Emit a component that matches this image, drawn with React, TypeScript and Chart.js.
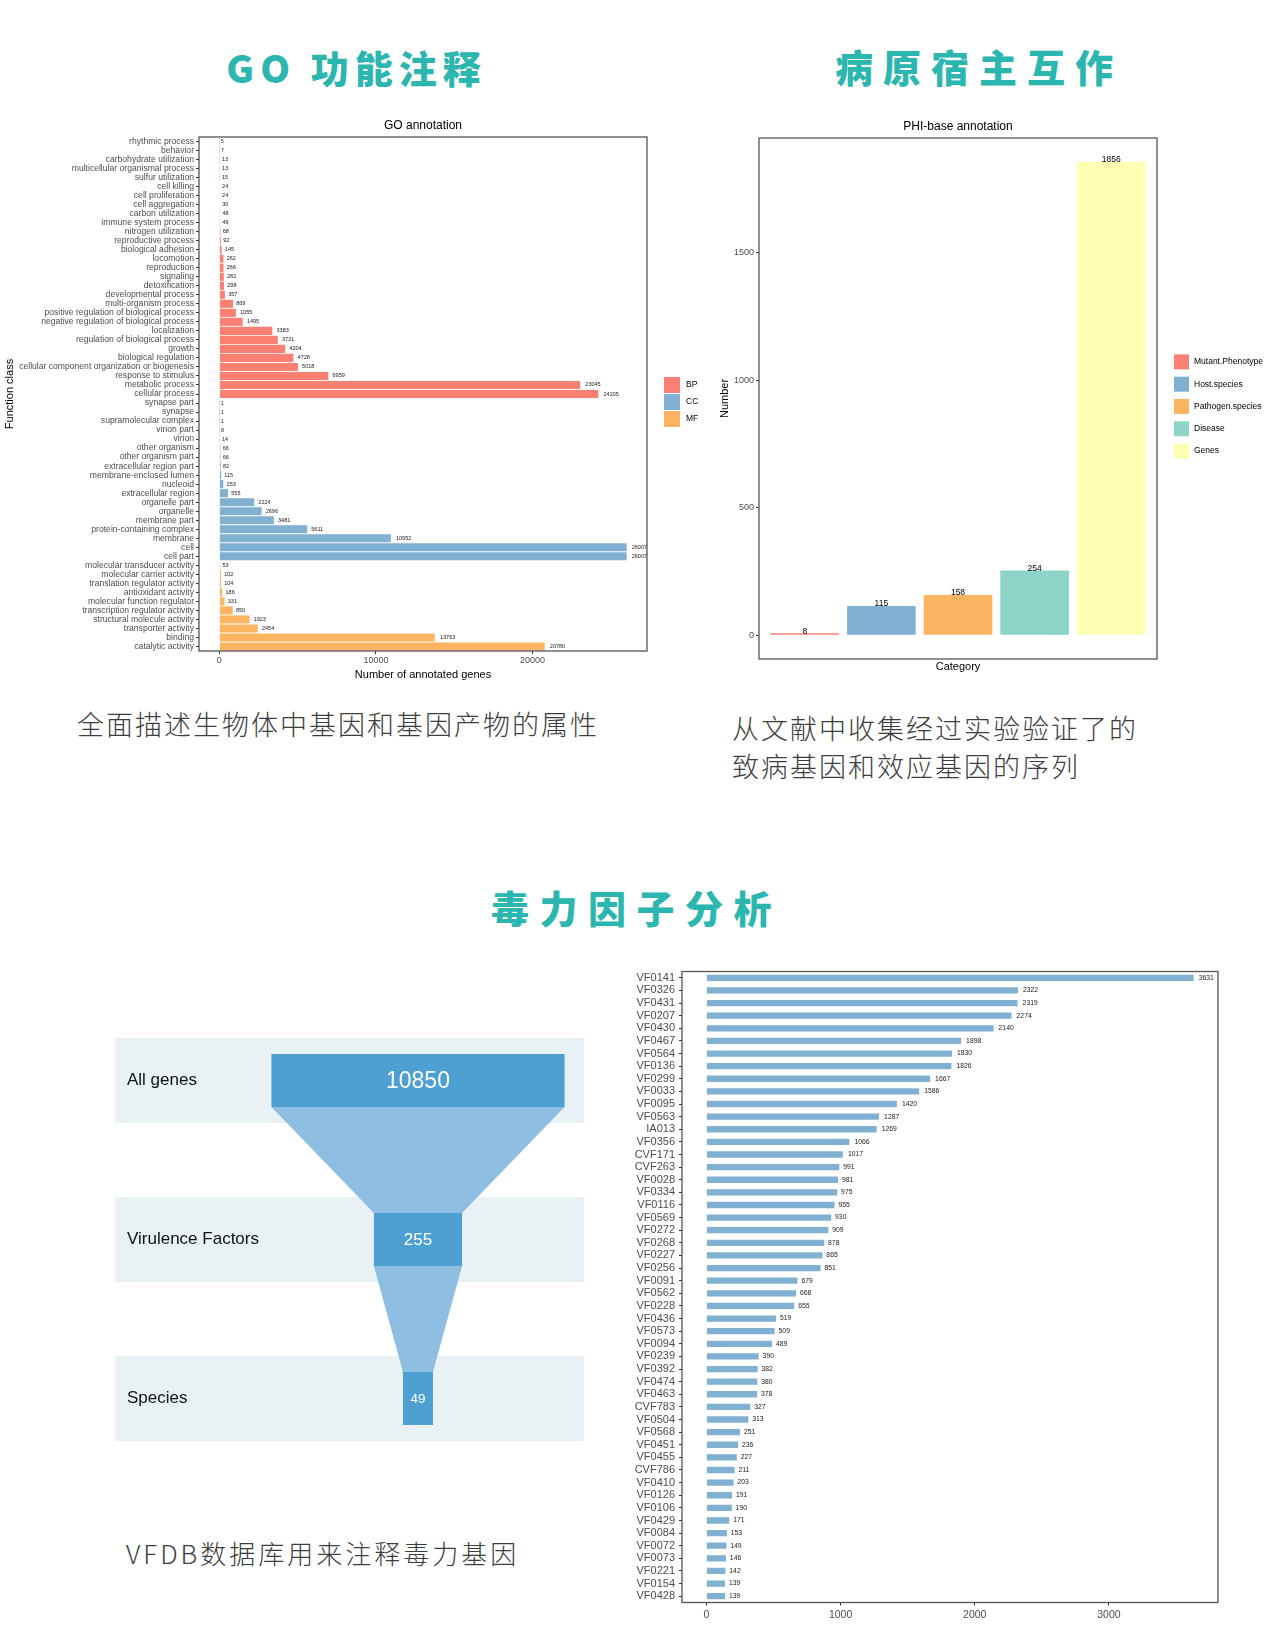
import React, { useEffect, useRef } from "react";
import { Chart, registerables } from "chart.js";

Chart.register(...registerables);

const FONT = '"Liberation Sans", Arial, Helvetica, sans-serif';
const CJK = '"Noto Sans CJK SC", "Noto Sans CJK TC", sans-serif';
Chart.defaults.font.family = FONT;

// ---------------- DATA ----------------
const goBPLabels = [
  "rhythmic process", "behavior", "carbohydrate utilization", "multicellular organismal process",
  "sulfur utilization", "cell killing", "cell proliferation", "cell aggregation", "carbon utilization",
  "immune system process", "nitrogen utilization", "reproductive process", "biological adhesion",
  "locomotion", "reproduction", "signaling", "detoxification", "developmental process",
  "multi-organism process", "positive regulation of biological process",
  "negative regulation of biological process", "localization", "regulation of biological process",
  "growth", "biological regulation", "cellular component organization or biogenesis",
  "response to stimulus", "metabolic process", "cellular process",
];
const goBPValues = [5, 7, 13, 13, 15, 24, 24, 30, 48, 49, 68, 92, 145, 262, 266, 282, 298, 357, 869, 1055, 1495, 3383, 3731, 4204, 4728, 5018, 6959, 23045, 24205];

const goCCLabels = [
  "synapse part", "synapse", "supramolecular complex", "virion part", "virion", "other organism",
  "other organism part", "extracellular region part", "membrane-enclosed lumen", "nucleoid",
  "extracellular region", "organelle part", "organelle", "membrane part", "protein-containing complex",
  "membrane", "cell", "cell part",
];
const goCCValues = [1, 1, 1, 8, 14, 66, 66, 82, 115, 253, 555, 2224, 2696, 3481, 5611, 10952, 26007, 26007];

const goMFLabels = [
  "molecular transducer activity", "molecular carrier activity", "translation regulator activity",
  "antioxidant activity", "molecular function regulator", "transcription regulator activity",
  "structural molecule activity", "transporter activity", "binding", "catalytic activity",
];
const goMFValues = [53, 102, 104, 186, 331, 850, 1923, 2454, 13763, 20780];
const goGroups = ["BP", "CC", "MF"];
const goTicks = [0, 10000, 20000];

const phiCategories = ["Mutant.Phenotype", "Host.species", "Pathogen.species", "Disease", "Genes"];
const phiValues = [8, 115, 158, 254, 1856];
const phiTicks = [0, 500, 1000, 1500];

const vfLabels = [
  "VF0141", "VF0326", "VF0431", "VF0207", "VF0430", "VF0467", "VF0564", "VF0136", "VF0299", "VF0033",
  "VF0095", "VF0563", "IA013", "VF0356", "CVF171", "CVF263", "VF0028", "VF0334", "VF0116", "VF0569",
  "VF0272", "VF0268", "VF0227", "VF0256", "VF0091", "VF0562", "VF0228", "VF0436", "VF0573", "VF0094",
  "VF0239", "VF0392", "VF0474", "VF0463", "CVF783", "VF0504", "VF0568", "VF0451", "VF0455", "CVF786",
  "VF0410", "VF0126", "VF0106", "VF0429", "VF0084", "VF0072", "VF0073", "VF0221", "VF0154", "VF0428",
];
const vfValues = [
  3631, 2322, 2319, 2274, 2140, 1898, 1830, 1826, 1667, 1586,
  1420, 1287, 1269, 1066, 1017, 991, 981, 975, 955, 930,
  909, 878, 865, 851, 679, 668, 655, 519, 509, 489,
  390, 382, 380, 378, 327, 313, 251, 236, 227, 211,
  203, 191, 190, 171, 153, 149, 146, 142, 139, 139,
];
const vfTicks = [0, 1000, 2000, 3000];

const funnelStages = ["All genes", "Virulence Factors", "Species"];
const funnelValues = [10850, 255, 49];
// relative drawn width of each funnel stage (% of the panel width)
const funnelStageWidths = [62.5, 18.8, 6.4];

// ---------------- STYLE ----------------
const RED = "#FB8072";
const BLUE = "#80B1D3";
const ORANGE = "#FDB462";
const TEAL = "#8DD3C7";
const YELLOW = "#FFFFB3";
const goColors = [RED, BLUE, ORANGE];
const phiColors = [RED, BLUE, ORANGE, TEAL, YELLOW];
const AXIS_TEXT = "#4d4d4d";
const TICK = "#333333";
const FUNNEL_CENTER = 64.6;
const funnelLabelFontSizes = [23, 17, 13.5];

function panelBox(chart: any) {
  const { ctx, chartArea: ca } = chart;
  ctx.save();
  ctx.strokeStyle = "#555555";
  ctx.lineWidth = 1.3;
  ctx.strokeRect(ca.left, ca.top, ca.right - ca.left, ca.bottom - ca.top);
  ctx.restore();
}

function plotTitle(chart: any, text: string, dy: number) {
  const { ctx, chartArea: ca } = chart;
  ctx.save();
  ctx.font = `12px ${FONT}`;
  ctx.fillStyle = "#000";
  ctx.textAlign = "center";
  ctx.textBaseline = "middle";
  ctx.fillText(text, (ca.left + ca.right) / 2, ca.top - dy);
  ctx.restore();
}

function hValueLabels(fontSize: number) {
  return {
    id: "hValueLabels",
    afterDatasetsDraw(chart: any) {
      const ctx = chart.ctx;
      ctx.save();
      ctx.font = `${fontSize}px ${FONT}`;
      ctx.fillStyle = "#1a1a1a";
      ctx.textAlign = "left";
      ctx.textBaseline = "middle";
      chart.data.datasets.forEach((ds: any, di: number) => {
        const meta = chart.getDatasetMeta(di);
        meta.data.forEach((el: any, i: number) => {
          const v = ds.data[i];
          if (v == null) return;
          const t = String(v);
          const w = ctx.measureText(t).width;
          ctx.fillText(t, el.x + 0.3 * w + 0.5, el.y);
        });
      });
      ctx.restore();
    },
  };
}

const fmt = (v: any) => String(v);

// ---------------- CONFIGS ----------------
function goConfig(): any {
  const labels = [...goBPLabels, ...goCCLabels, ...goMFLabels];
  const nBP = goBPValues.length, nCC = goCCValues.length, nMF = goMFValues.length;
  const nul = (n: number) => Array(n).fill(null);
  const series = [
    [...goBPValues, ...nul(nCC + nMF)],
    [...nul(nBP), ...goCCValues, ...nul(nMF)],
    [...nul(nBP + nCC), ...goMFValues],
  ];
  return {
    type: "bar",
    data: {
      labels,
      datasets: goGroups.map((g, i) => ({
        label: g,
        data: series[i],
        backgroundColor: goColors[i],
        grouped: false,
        barPercentage: 0.9,
        categoryPercentage: 1,
        borderWidth: 0,
      })),
    },
    options: {
      indexAxis: "y",
      responsive: false,
      maintainAspectRatio: false,
      animation: false,
      layout: { padding: { left: 0, top: 37, right: 73, bottom: 18 } },
      plugins: { legend: { display: false }, tooltip: { enabled: false } },
      scales: {
        x: {
          type: "linear",
          min: -1300,
          max: 27307,
          afterBuildTicks: (s: any) => { s.ticks = goTicks.map((v) => ({ value: v })); },
          afterFit: (s: any) => { s.height = 31; },
          grid: { drawOnChartArea: false, drawTicks: true, tickLength: 3, tickColor: TICK },
          border: { display: false },
          ticks: { font: { size: 9 }, color: AXIS_TEXT, padding: 1, maxRotation: 0, callback: fmt },
          title: { display: true, text: "Number of annotated genes", font: { size: 11 }, color: "#000", padding: 0 },
        },
        y: {
          type: "category",
          afterFit: (s: any) => { s.width = 199; },
          grid: { offset: false, drawOnChartArea: false, drawTicks: true, tickLength: 3, tickColor: TICK },
          border: { display: false },
          ticks: { autoSkip: false, font: { size: 8.6 }, color: AXIS_TEXT, padding: 2 },
          title: { display: true, text: "Function class", font: { size: 11 }, color: "#000", padding: { top: 3, bottom: 0 } },
        },
      },
    },
    plugins: [
      hValueLabels(5.5),
      {
        id: "goDeco",
        afterDraw(chart: any) {
          panelBox(chart);
          plotTitle(chart, "GO annotation", 11);
          const { ctx, chartArea: ca } = chart;
          const x0 = ca.right + 17;
          const y0 = (ca.top + ca.bottom) / 2 - 17;
          ctx.save();
          ctx.font = `8.5px ${FONT}`;
          ctx.textBaseline = "middle";
          goGroups.forEach((g, i) => {
            ctx.fillStyle = goColors[i];
            ctx.fillRect(x0, y0 + i * 17, 16, 16);
            ctx.fillStyle = "#000";
            ctx.fillText(g, x0 + 22, y0 + i * 17 + 8);
          });
          ctx.restore();
        },
      },
    ],
  };
}

function phiConfig(): any {
  return {
    type: "bar",
    data: {
      labels: [""],
      datasets: phiCategories.map((c, i) => ({
        label: c,
        data: [phiValues[i]],
        backgroundColor: phiColors[i],
        categoryPercentage: 0.9625,
        barPercentage: 0.896,
        borderWidth: 0,
      })),
    },
    options: {
      responsive: false,
      maintainAspectRatio: false,
      animation: false,
      layout: { padding: { left: 0, top: 38, right: 123, bottom: 26 } },
      plugins: { legend: { display: false }, tooltip: { enabled: false } },
      scales: {
        x: {
          type: "category",
          afterFit: (s: any) => { s.height = 15; },
          grid: { display: false },
          border: { display: false },
          ticks: { display: false },
          title: { display: true, text: "Category", font: { size: 11 }, color: "#000", padding: 0 },
        },
        y: {
          type: "linear",
          min: -92.8,
          max: 1948.8,
          afterBuildTicks: (s: any) => { s.ticks = phiTicks.map((v) => ({ value: v })); },
          afterFit: (s: any) => { s.width = 79; },
          grid: { drawOnChartArea: false, drawTicks: true, tickLength: 3, tickColor: TICK },
          border: { display: false },
          ticks: { font: { size: 9 }, color: AXIS_TEXT, padding: 2, callback: fmt },
          title: { display: true, text: "Number", font: { size: 11 }, color: "#000", padding: { top: 38, bottom: 0 } },
        },
      },
    },
    plugins: [
      {
        id: "phiDeco",
        afterDraw(chart: any) {
          panelBox(chart);
          plotTitle(chart, "PHI-base annotation", 11.5);
          const { ctx, chartArea: ca } = chart;
          ctx.save();
          ctx.font = `8.5px ${FONT}`;
          ctx.fillStyle = "#000";
          ctx.textAlign = "center";
          ctx.textBaseline = "alphabetic";
          chart.data.datasets.forEach((ds: any, di: number) => {
            const el = chart.getDatasetMeta(di).data[0];
            ctx.fillText(String(ds.data[0]), el.x, el.y + 0.5);
          });
          const x0 = ca.right + 17;
          const mid = (ca.top + ca.bottom) / 2 + 8;
          ctx.textAlign = "left";
          ctx.textBaseline = "middle";
          phiCategories.forEach((c, i) => {
            const yc = mid + (i - 2) * 22.3;
            ctx.fillStyle = phiColors[i];
            ctx.fillRect(x0, yc - 7.5, 15, 15);
            ctx.fillStyle = "#000";
            ctx.fillText(c, x0 + 20, yc);
          });
          ctx.restore();
        },
      },
    ],
  };
}

function vfConfig(): any {
  return {
    type: "bar",
    data: {
      labels: vfLabels,
      datasets: [{ label: "VF", data: vfValues, backgroundColor: BLUE, barPercentage: 0.5, categoryPercentage: 1, borderWidth: 0 }],
    },
    options: {
      indexAxis: "y",
      responsive: false,
      maintainAspectRatio: false,
      animation: false,
      layout: { padding: { left: 0, top: 21.5, right: 62, bottom: 4.5 } },
      plugins: { legend: { display: false }, tooltip: { enabled: false } },
      scales: {
        x: {
          type: "linear",
          min: -181.55,
          max: 3812.55,
          afterBuildTicks: (s: any) => { s.ticks = vfTicks.map((v) => ({ value: v })); },
          afterFit: (s: any) => { s.height = 25; },
          grid: { drawOnChartArea: false, drawTicks: true, tickLength: 3, tickColor: TICK },
          border: { display: false },
          ticks: { font: { size: 10.5 }, color: AXIS_TEXT, padding: 3, maxRotation: 0, callback: fmt },
        },
        y: {
          type: "category",
          afterFit: (s: any) => { s.width = 82; },
          grid: { offset: false, drawOnChartArea: false, drawTicks: true, tickLength: 3, tickColor: TICK },
          border: { display: false },
          ticks: { autoSkip: false, font: { size: 11 }, color: AXIS_TEXT, padding: 4 },
        },
      },
    },
    plugins: [
      hValueLabels(6.8),
      { id: "vfBox", afterDraw(chart: any) { panelBox(chart); } },
    ],
  };
}

function funnelConfig(): any {
  return {
    type: "bar",
    data: {
      labels: funnelStages,
      datasets: [
        {
          label: "funnel",
          data: funnelStageWidths.map((w) => [FUNNEL_CENTER - w / 2, FUNNEL_CENTER + w / 2]),
          backgroundColor: "#4e9fd2",
          barPercentage: 0.333,
          categoryPercentage: 1,
          borderWidth: 0,
        },
      ],
    },
    options: {
      indexAxis: "y",
      responsive: false,
      maintainAspectRatio: false,
      animation: false,
      layout: { padding: { left: 15, right: 16, top: 11, bottom: 12 } },
      plugins: { legend: { display: false }, tooltip: { enabled: false } },
      scales: {
        x: { type: "linear", min: 0, max: 100, display: false },
        y: { type: "category", display: false },
      },
    },
    plugins: [
      {
        id: "funnelDeco",
        beforeDatasetsDraw(chart: any) {
          const { ctx, chartArea: ca } = chart;
          const ys = chart.scales.y;
          const els = chart.getDatasetMeta(0).data;
          ctx.save();
          ctx.fillStyle = "#e8f1f4";
          funnelStages.forEach((_, i) => {
            const yc = ys.getPixelForValue(i);
            ctx.fillRect(ca.left, yc - 42.5, ca.right - ca.left, 85);
          });
          ctx.fillStyle = "#8ebfe3";
          for (let i = 0; i < els.length - 1; i++) {
            const a = els[i], b = els[i + 1];
            const aL = Math.min(a.x, a.base), aR = Math.max(a.x, a.base);
            const bL = Math.min(b.x, b.base), bR = Math.max(b.x, b.base);
            const aB = a.y + a.height / 2, bT = b.y - b.height / 2;
            ctx.beginPath();
            ctx.moveTo(aL, aB);
            ctx.lineTo(aR, aB);
            ctx.lineTo(bR, bT);
            ctx.lineTo(bL, bT);
            ctx.closePath();
            ctx.fill();
          }
          ctx.restore();
        },
        afterDatasetsDraw(chart: any) {
          const { ctx, chartArea: ca } = chart;
          const els = chart.getDatasetMeta(0).data;
          ctx.save();
          ctx.textBaseline = "middle";
          funnelStages.forEach((s, i) => {
            const el = els[i];
            ctx.font = `17px ${FONT}`;
            ctx.fillStyle = "#111";
            ctx.textAlign = "left";
            ctx.fillText(s, ca.left + 12, el.y);
            ctx.font = `${funnelLabelFontSizes[i]}px ${FONT}`;
            ctx.fillStyle = "#ffffff";
            ctx.textAlign = "center";
            ctx.fillText(String(funnelValues[i]), (el.x + el.base) / 2, el.y + 1);
          });
          ctx.restore();
        },
      },
    ],
  };
}

// ---------------- COMPONENTS ----------------
function ChartCanvas({ left, top, width, height, build }: { left: number; top: number; width: number; height: number; build: () => any }) {
  const ref = useRef<HTMLCanvasElement>(null);
  useEffect(() => {
    const chart = new Chart(ref.current as HTMLCanvasElement, build());
    return () => chart.destroy();
  }, []);
  return (
    <canvas
      ref={ref}
      width={width}
      height={height}
      style={{ position: "absolute", left, top, width, height, display: "block" }}
    />
  );
}

function SectionTitle({ text, cx, cy, spacing }: { text: string; cx: number; cy: number; spacing: number }) {
  return (
    <div
      style={{
        position: "absolute",
        left: cx - 300,
        top: cy - 25,
        width: 600,
        height: 50,
        lineHeight: "50px",
        textAlign: "center",
        fontFamily: CJK,
        fontWeight: 900,
        fontSize: 38,
        color: "#2cb6b0",
        letterSpacing: spacing,
        paddingLeft: spacing,
        whiteSpace: "nowrap",
      }}
    >
      {text}
    </div>
  );
}

function BodyText({ lines, left, top, size, spacing }: { lines: string[]; left: number; top: number; size: number; spacing: number }) {
  return (
    <div
      style={{
        position: "absolute",
        left,
        top,
        fontFamily: CJK,
        fontWeight: 300,
        fontSize: size,
        lineHeight: "38px",
        color: "#3d3d3d",
        letterSpacing: spacing,
        whiteSpace: "nowrap",
      }}
    >
      {lines.map((l, i) => (
        <div key={i}>{l}</div>
      ))}
    </div>
  );
}

export default function App() {
  return (
    <div
      style={{
        position: "absolute",
        left: 0,
        top: 0,
        width: 1280,
        height: 1632,
        background: "#ffffff",
        overflow: "hidden",
      }}
    >
      <SectionTitle text="GO 功能注释" cx={350.5} cy={67} spacing={6} />
      <SectionTitle text="病原宿主互作" cx={969} cy={66} spacing={10} />
      <SectionTitle text="毒力因子分析" cx={626} cy={907} spacing={10.5} />

      <ChartCanvas left={0} top={100} width={720} height={600} build={goConfig} />
      <ChartCanvas left={680} top={100} width={600} height={600} build={phiConfig} />

      <BodyText lines={["全面描述生物体中基因和基因产物的属性"]} left={77} top={705} size={27} spacing={2} />
      <BodyText lines={["从文献中收集经过实验验证了的", "致病基因和效应基因的序列"]} left={732} top={709} size={27} spacing={2} />

      <ChartCanvas left={100} top={990} width={500} height={500} build={funnelConfig} />
      <ChartCanvas left={600} top={950} width={680} height={682} build={vfConfig} />

      <BodyText lines={["VFDB数据库用来注释毒力基因"]} left={126} top={1534} size={26} spacing={3} />
    </div>
  );
}
